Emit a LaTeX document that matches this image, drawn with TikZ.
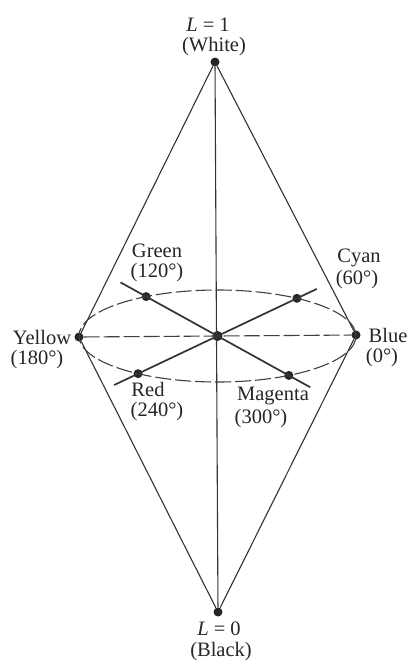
\documentclass[tikz,border=0pt]{standalone}
\usepackage{fontspec}
\setmainfont{Liberation Serif}
\usetikzlibrary{calc}
\begin{document}
\begin{tikzpicture}[x=1pt,y=-1pt,
  dot/.style={circle,fill=black!85,inner sep=0pt,minimum size=9pt},
  lbl/.style={font=\fontsize{20.5}{22}\selectfont,text=black!85,inner sep=0pt},
  edge/.style={draw=black!80,line width=1.1pt},
  axis/.style={draw=black!80,line width=1.7pt},
  dashline/.style={draw=black!75,line width=1.1pt,dash pattern=on 16pt off 4pt}]
\useasboundingbox[fill=white] (0,0) rectangle (410,662);
\coordinate (E) at (217.5,336);
\node[dot] (T) at (215,62) {};
\node[dot] (K) at (218,612) {};
\node[dot] (Y) at (79,337) {};
\node[dot] (Bl) at (356,335) {};
\node[dot,minimum size=10pt] (C) at (217.5,336) {};
\node[dot] (G) at ($(E)+(121:138.5pt and 46pt)$) {};
\node[dot] (M) at ($(E)+(301:138.5pt and 46pt)$) {};
\node[dot] (Cy) at ($(E)+(55:138.5pt and 46pt)$) {};
\node[dot] (R) at ($(E)+(235:138.5pt and 46pt)$) {};
% cone outline
\draw[edge] (T) -- (Y);
\draw[edge] (T) -- (Bl);
\draw[edge] (Y) -- (K);
\draw[edge] (Bl) -- (K);
% vertical axis
\draw[edge] (T) -- (K);
% hue circle and horizontal axis
\draw[dashline] (E) ellipse [x radius=138.5pt, y radius=46pt];
\draw[dashline] (Y) -- (Bl);
% diameters
\draw[axis] ($(C)!1.36!(G)$) -- ($(C)!1.3!(M)$);
\draw[axis] ($(C)!1.25!(Cy)$) -- ($(C)!1.3!(R)$);
% labels
\node[lbl] (lw1) at (208,25) {\textit{L} = 1};
\node[lbl] (lw2) at (214,47) {(White)};
\node[lbl] (lg1) at (157,251) {Green};
\node[lbl] (lg2) at (157,273) {(120°)};
\node[lbl] (lc1) at (359,258) {Cyan};
\node[lbl] (lc2) at (357,280) {(60°)};
\node[lbl] (ly1) at (42,337) {Yellow};
\node[lbl] (ly2) at (37,360) {(180°)};
\node[lbl] (lb1) at (388,335) {Blue};
\node[lbl] (lb2) at (382,358) {(0°)};
\node[lbl] (lr1) at (148,389) {Red};
\node[lbl] (lr2) at (157,412) {(240°)};
\node[lbl] (lm1) at (273,396) {Magenta};
\node[lbl] (lm2) at (261,419) {(300°)};
\node[lbl] (lk1) at (219,629) {\textit{L} = 0};
\node[lbl] (lk2) at (221,652) {(Black)};
\end{tikzpicture}
\end{document}
